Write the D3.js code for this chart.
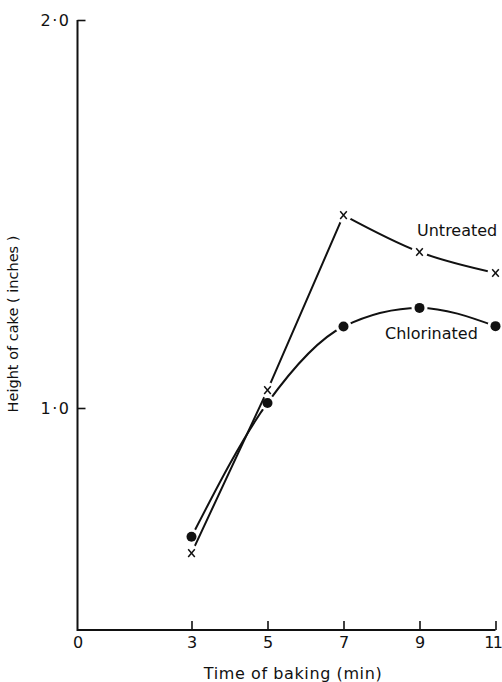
<!DOCTYPE html>
<html>
<head>
<meta charset="utf-8">
<script src="https://cdn.jsdelivr.net/npm/d3@7/dist/d3.min.js"></script>
<style>
  html, body { margin: 0; padding: 0; background: #fff; }
  svg { display: block; }
  text { font-family: "DejaVu Sans", "Liberation Sans", sans-serif; fill: #111; }
</style>
</head>
<body>
<svg id="chart" width="502" height="682"></svg>
<script>
// Baking time (min) and cake height (inches)
const times = [3, 5, 7, 9, 11];
const untreated = [0.626, 1.046, 1.497, 1.402, 1.348];
const chlorinated = [0.668, 1.013, 1.210, 1.258, 1.211];
const xTickValues = [0, 3, 5, 7, 9, 11];
const yTickValues = [1.0, 2.0];
const xTitle = "Time of baking (min)";
const yTitle = "Height of cake ( inches )";

const W = 502, H = 682;
const plotBottom = 630;
const svg = d3.select("#chart");

const x = d3.scaleLinear().domain([0, 11]).range([77.5, 495.5]);
const y = d3.scaleLinear().domain([1, 2]).range([408, 20]);
const ink = "#111";

// Axes
const xAxis = d3.axisBottom(x)
  .tickValues(xTickValues)
  .tickSizeInner(-9)
  .tickSizeOuter(0)
  .tickPadding(7)
  .tickFormat(d3.format("d"));
const gx = svg.append("g").attr("transform", `translate(0,${plotBottom})`).call(xAxis);
gx.select(".domain").remove();
gx.selectAll(".tick line").attr("stroke", ink).attr("stroke-width", 1.6)
  .filter(d => d === 0).remove();
gx.selectAll(".tick text").attr("font-size", 16).attr("font-family", null).attr("fill", ink);
// last label sits at the right edge of the page; keep it inside
gx.selectAll(".tick text").filter(d => d === 11)
  .attr("text-anchor", "end").attr("x", W - 1 - x(11)).attr("letter-spacing", -1.5);

const yAxis = d3.axisLeft(y)
  .tickValues(yTickValues)
  .tickSizeInner(-8)
  .tickSizeOuter(0)
  .tickPadding(7)
  .tickFormat(d => d3.format(".1f")(d).replace(".", "·"));
const gy = svg.append("g").attr("transform", `translate(${x(0)},0)`).call(yAxis);
gy.select(".domain").remove();
gy.selectAll(".tick line").attr("stroke", ink).attr("stroke-width", 1.6);
gy.selectAll(".tick text").attr("font-size", 16).attr("font-family", null)
  .attr("letter-spacing", 1.5).attr("fill", ink);

// Axis lines (the y axis starts above zero, so draw the frame directly)
svg.append("path")
  .attr("d", `M${x(0)},${y(2)} V${plotBottom} H${x(11)}`)
  .attr("fill", "none").attr("stroke", ink).attr("stroke-width", 2);

// Axis titles
svg.append("text")
  .attr("x", 293).attr("y", 679)
  .attr("text-anchor", "middle").attr("font-size", 16).attr("letter-spacing", 0.6)
  .text(xTitle);
svg.append("text")
  .attr("transform", "translate(18,324) rotate(-90)")
  .attr("text-anchor", "middle").attr("font-size", 14.5)
  .text(yTitle);

// Series data as points
const ptsU = times.map((t, i) => [x(t), y(untreated[i])]);
const ptsC = times.map((t, i) => [x(t), y(chlorinated[i])]);

// Masks leave a small gap in each line around its own markers
const defs = svg.append("defs");
function makeMask(id, pts, r) {
  const m = defs.append("mask").attr("id", id).attr("maskUnits", "userSpaceOnUse")
    .attr("x", 0).attr("y", 0).attr("width", W).attr("height", H);
  m.append("rect").attr("width", W).attr("height", H).attr("fill", "#fff");
  m.selectAll("circle").data(pts).join("circle")
    .attr("cx", d => d[0]).attr("cy", d => d[1]).attr("r", r).attr("fill", "#000");
}
makeMask("maskU", ptsU, 8);
makeMask("maskC", ptsC, 8);

// Untreated: straight rise to 7 min, then a gentle curve down
const gU = svg.append("g").attr("mask", "url(#maskU)");
gU.append("path")
  .attr("d", d3.line().curve(d3.curveLinear)(ptsU.slice(0, 3)))
  .attr("fill", "none").attr("stroke", ink).attr("stroke-width", 2);
gU.append("path")
  .attr("d", d3.line().curve(d3.curveNatural)(ptsU.slice(2)))
  .attr("fill", "none").attr("stroke", ink).attr("stroke-width", 2);

// Chlorinated: smooth curve
svg.append("g").attr("mask", "url(#maskC)")
  .append("path")
  .attr("d", d3.line().curve(d3.curveMonotoneX)(ptsC))
  .attr("fill", "none").attr("stroke", ink).attr("stroke-width", 2);

// Markers
svg.append("g").selectAll("path").data(ptsU).join("path")
  .attr("d", d => `M${d[0]-3.3},${d[1]-3.8} L${d[0]+3.3},${d[1]+3.8} M${d[0]+3.3},${d[1]-3.8} L${d[0]-3.3},${d[1]+3.8}`)
  .attr("stroke", ink).attr("stroke-width", 1.5).attr("fill", "none");
svg.append("g").selectAll("circle").data(ptsC).join("circle")
  .attr("cx", d => d[0]).attr("cy", d => d[1]).attr("r", 5).attr("fill", ink);

// Series labels
svg.append("text").attr("x", 417).attr("y", 236).attr("font-size", 16).text("Untreated");
svg.append("text").attr("x", 385).attr("y", 339).attr("font-size", 16).text("Chlorinated");
</script>
</body>
</html>
